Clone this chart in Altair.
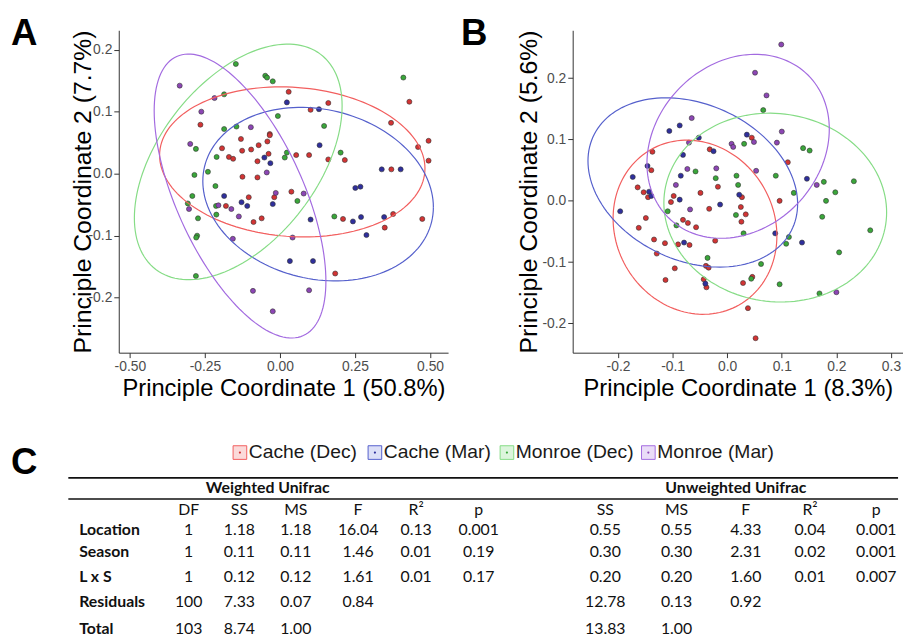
import altair as alt
import numpy as np
import pandas as pd

groups = ["Cache (Dec)", "Cache (Mar)", "Monroe (Dec)", "Monroe (Mar)"]
point_colors = ["#d23434", "#2f2f9c", "#3aa63a", "#8c46b4"]
ellipse_colors = ["#f25f5f", "#5560cc", "#86dc86", "#a36be0"]
legend_fills = ["#fbdada", "#dcdff7", "#dcf5dc", "#eadcf8"]

# ---------------- Panel A (weighted) ----------------
a_red_x = [0.029, 0.161, 0.102, 0.431, -0.265, 0.370, -0.034, -0.034, -0.130, -0.042, -0.071, 0.495, 0.460,
           -0.193, -0.126, -0.096, -0.038, -0.170, -0.156, 0.054, 0.097, -0.075, 0.161, 0.216, 0.495, 0.371,
           -0.125, -0.075, 0.038, -0.104, -0.019, -0.180, -0.088, -0.061, 0.210, 0.377, 0.474, 0.349, 0.184]
a_red_y = [0.132, 0.114, 0.103, 0.116, 0.079, 0.082, 0.064, 0.062, 0.056, 0.052, 0.046, 0.053, 0.043,
           0.041, 0.037, 0.039, 0.032, 0.027, 0.024, 0.030, 0.030, 0.020, 0.023, 0.022, 0.021, 0.007,
           -0.005, -0.006, -0.029, -0.038, -0.038, -0.052, -0.078, -0.072, -0.073, -0.065, -0.073, -0.087, -0.161]
a_blue_x = [0.023, 0.130, 0.132, -0.052, -0.032, 0.339, 0.402, 0.251, 0.268, -0.186, -0.128, -0.109, -0.024,
            0.102, 0.243, 0.270, 0.347, 0.288, 0.033, 0.110]
a_blue_y = [0.115, 0.104, 0.046, 0.026, 0.017, 0.007, 0.007, -0.023, -0.021, -0.036, -0.046, -0.052, -0.049,
            -0.074, -0.077, -0.070, -0.070, -0.099, -0.141, -0.141]
a_green_x = [-0.147, -0.049, -0.043, -0.024, 0.411, -0.186, -0.007, -0.186, -0.145, 0.147, -0.280, -0.211, 0.023,
             0.016, 0.202, -0.240, -0.285, -0.215, -0.292, -0.307, -0.213, -0.212, -0.273, 0.058, 0.181, -0.276,
             -0.279, -0.280]
a_green_y = [0.177, 0.158, 0.155, 0.149, 0.155, 0.128, 0.093, 0.072, 0.076, 0.077, 0.040, 0.027, 0.034,
             0.026, 0.034, 0.003, -0.002, -0.020, -0.036, -0.048, -0.052, -0.066, -0.072, -0.044, -0.069, -0.100,
             -0.103, -0.165]
a_purple_x = [-0.334, -0.262, -0.097, -0.299, -0.218, -0.044, -0.014, 0.079, -0.205, -0.303, -0.162, -0.137,
              -0.157, 0.042, -0.090, 0.097, -0.024]
a_purple_y = [0.142, 0.100, 0.075, 0.048, 0.122, 0.002, -0.031, -0.032, -0.051, -0.057, -0.057, -0.069,
              -0.105, -0.103, -0.189, -0.188, -0.222]

# ellipse parameters (centre, half-width, half-height, tilt) in the order of groups
a_ell_cx = [0.041, 0.127, -0.139, -0.133]
a_ell_cy = [0.019, -0.033, 0.019, -0.036]
a_ell_rx = [0.442, 0.384, 0.346, 0.286]
a_ell_ry = [0.121, 0.140, 0.190, 0.229]
a_ell_tilt = [-0.088, -0.15, 0.496, -0.644]

# ---------------- Panel B (unweighted) ----------------
b_red_x = [-0.137, 0.045, -0.032, 0.111, -0.139, -0.164, -0.153, -0.145, -0.017, -0.049, -0.098, -0.103, 0.027,
           0.096, -0.033, 0.025, 0.034, 0.026, -0.149, -0.081, -0.072, -0.057, -0.162, -0.134, -0.114, -0.090,
           -0.069, -0.022, -0.129, -0.096, -0.039, -0.034, -0.043, -0.038, -0.113, 0.029, 0.046, 0.038, 0.052]
b_red_y = [0.080, 0.103, 0.084, 0.063, 0.050, 0.022, 0.014, 0.006, 0.023, 0.013, 0.008, -0.002, 0.006,
           0.000, -0.013, -0.010, -0.022, -0.034, -0.028, -0.031, -0.036, -0.043, -0.044, -0.063, -0.069, -0.071,
           -0.072, -0.065, -0.086, -0.110, -0.106, -0.109, -0.128, -0.141, -0.129, -0.134, -0.124, -0.175, -0.224]
b_blue_x = [-0.106, -0.087, -0.052, 0.036, -0.025, -0.081, -0.146, -0.173, -0.085, -0.143, -0.139, 0.022, -0.087,
            -0.013, -0.196, 0.146, 0.088, 0.137, -0.079, -0.040]
b_blue_y = [0.114, 0.123, 0.103, 0.108, 0.081, 0.075, 0.057, 0.039, 0.041, 0.015, 0.008, 0.010, 0.002,
            -0.006, -0.017, 0.036, -0.053, -0.068, -0.068, -0.135]
b_green_x = [0.066, 0.031, 0.139, 0.151, -0.058, -0.021, 0.017, 0.089, 0.020, 0.177, 0.232, 0.122, 0.198,
             0.181, -0.109, 0.016, 0.174, -0.093, 0.030, 0.262, 0.113, 0.108, 0.205, -0.036, 0.062, 0.044,
             0.096, 0.169]
b_green_y = [0.148, 0.093, 0.086, 0.082, 0.048, 0.037, 0.041, 0.041, 0.026, 0.031, 0.032, 0.013, 0.014,
             0.000, -0.017, -0.023, -0.026, -0.040, -0.053, -0.048, -0.059, -0.070, -0.084, -0.093, -0.103, -0.127,
             -0.136, -0.151]
b_purple_x = [0.099, 0.051, 0.072, -0.065, 0.100, 0.008, 0.011, 0.049, 0.091, -0.070, -0.020, -0.073, 0.053,
              -0.094, -0.068, 0.164, 0.200]
b_purple_y = [0.255, 0.209, 0.172, 0.135, 0.113, 0.093, 0.088, 0.096, 0.095, 0.095, 0.053, 0.052, 0.049,
              0.026, -0.014, 0.026, -0.149]

b_ell_cx = [-0.059, -0.063, 0.088, 0.020]
b_ell_cy = [-0.043, 0.030, -0.011, 0.089]
b_ell_rx = [0.150, 0.192, 0.204, 0.167]
b_ell_ry = [0.142, 0.138, 0.154, 0.150]
b_ell_tilt = [-0.10, -0.257, -0.05, 0.188]

# ---------------- Table C ----------------
row_labels = ["Location", "Season", "L x S", "Residuals", "Total"]
col_headers = ["DF", "SS", "MS", "F", "R\u00b2", "p", "SS", "MS", "F", "R\u00b2", "p"]
df_vals = ["1", "1", "1", "100", "103"]
w_ss = ["1.18", "0.11", "0.12", "7.33", "8.74"]
w_ms = ["1.18", "0.11", "0.12", "0.07", "1.00"]
w_f = ["16.04", "1.46", "1.61", "0.84", ""]
w_r2 = ["0.13", "0.01", "0.01", "", ""]
w_p = ["0.001", "0.19", "0.17", "", ""]
u_ss = ["0.55", "0.30", "0.20", "12.78", "13.83"]
u_ms = ["0.55", "0.30", "0.20", "0.13", "1.00"]
u_f = ["4.33", "2.31", "1.60", "0.92", ""]
u_r2 = ["0.04", "0.02", "0.01", "", ""]
u_p = ["0.001", "0.001", "0.007", "", ""]
group_headers = ["Weighted Unifrac", "Unweighted Unifrac"]


def make_points(xs_list, ys_list):
    rows = []
    for g, xs, ys in zip(groups, xs_list, ys_list):
        for x, y in zip(xs, ys):
            rows.append({"group": g, "x": x, "y": y})
    return pd.DataFrame(rows)


def make_ellipses(cx, cy, rx, ry, tilt):
    t = np.linspace(0, 2 * np.pi, 145)
    rows = []
    for g, a, b, c, d, e in zip(groups, cx, cy, rx, ry, tilt):
        xs = a + c * np.cos(t)
        ys = b + d * np.sin(t + e)
        for i, (x, y) in enumerate(zip(xs, ys)):
            rows.append({"group": g, "i": i, "x": float(x), "y": float(y)})
    return pd.DataFrame(rows)


MINUS_FIX = "replace(datum.label, '\u2212', '-')"
axis_style = dict(grid=False, domainColor="#333333", tickColor="#333333", tickSize=5,
                  labelColor="#4d4d4d", labelFontSize=14, labelFont="Liberation Sans",
                  titleFont="Liberation Sans", titleColor="#000000", titleFontWeight="normal",
                  labelPadding=2, labelExpr=MINUS_FIX)


def panel(pts, ells, xdom, ydom, xticks, yticks, xfmt, xtitle, ytitle, letter, ytitle_x, width, height, letter_x):
    xenc = alt.X("x:Q", scale=alt.Scale(domain=xdom, nice=False, zero=False),
                 axis=alt.Axis(values=xticks, format=xfmt, title=xtitle, titlePadding=3,
                               titleFontSize=24, **axis_style))
    yenc = alt.Y("y:Q", scale=alt.Scale(domain=ydom, nice=False, zero=False),
                 axis=alt.Axis(values=yticks, format=".1f", title=ytitle, titleX=ytitle_x,
                               titleBaseline="alphabetic", titleFontSize=25, **axis_style))
    pts_ch = alt.Chart(pts).mark_circle(size=26, opacity=1, stroke="#333333", strokeWidth=0.6,
                                        clip=True).encode(
        x=xenc, y=yenc,
        fill=alt.Fill("group:N", scale=alt.Scale(domain=groups, range=point_colors), legend=None))
    ell_ch = alt.Chart(ells).mark_line(strokeWidth=1.2, clip=True).encode(
        x=xenc, y=yenc,
        color=alt.Color("group:N", scale=alt.Scale(domain=groups, range=ellipse_colors), legend=None),
        detail="group:N", order="i:Q")
    let_ch = alt.Chart(pd.DataFrame({"t": [letter]})).mark_text(
        align="left", baseline="alphabetic", fontSize=37, fontWeight="bold",
        font="Liberation Sans", color="#000000").encode(
        x=alt.value(letter_x), y=alt.value(15), text="t:N")
    return alt.layer(pts_ch, ell_ch, let_ch).properties(width=width, height=height)


pts_a = make_points([a_red_x, a_blue_x, a_green_x, a_purple_x], [a_red_y, a_blue_y, a_green_y, a_purple_y])
ell_a = make_ellipses(a_ell_cx, a_ell_cy, a_ell_rx, a_ell_ry, a_ell_tilt)
pts_b = make_points([b_red_x, b_blue_x, b_green_x, b_purple_x], [b_red_y, b_blue_y, b_green_y, b_purple_y])
ell_b = make_ellipses(b_ell_cx, b_ell_cy, b_ell_rx, b_ell_ry, b_ell_tilt)

panel_a = panel(pts_a, ell_a, [-0.537, 0.560], [-0.2887, 0.2313], [-0.5, -0.25, 0, 0.25, 0.5],
                [-0.2, -0.1, 0, 0.1, 0.2], ".2f", "Principle Coordinate 1 (50.8%)",
                "Principle Coordinate 2 (7.7%)", "A", -29, 333, 326, -109)
panel_b = panel(pts_b, ell_b, [-0.283, 0.322], [-0.2476, 0.2782], [-0.2, -0.1, 0, 0.1, 0.2, 0.3],
                [-0.2, -0.1, 0, 0.1, 0.2], ".1f", "Principle Coordinate 1 (8.3%)",
                "Principle Coordinate 2 (5.6%)", "B", -37, 334, 326, -113)

top = alt.hconcat(panel_a, panel_b, spacing=13)

# ---------------- bottom: legend + table (origin aligned with panel A plot) ----------------
TW, TH = 788, 192
y_scale = alt.Scale(domain=[-2, -1, 0, 0.5, 1, 2, 3, 4, 5, 6],
                    range=[11, 36.7, 46.7, 58, 69, 89, 111.7, 136.7, 162, 189])
col_scale = alt.Scale(domain=list(range(12)),
                      range=[-40, 70.7, 122, 179, 242, 300.7, 364, 492, 564, 634, 699, 766])
leg_scale = alt.Scale(domain=[0, 1, 2, 3], range=[122.5, 259, 392.5, 535.5])
head_scale = alt.Scale(domain=[0, 1], range=[150.7, 624])

legend_df = pd.DataFrame({"entry": groups, "k": list(range(len(groups))), "r": [-2] * len(groups)})
leg_x = alt.X("k:Q", scale=leg_scale, axis=None)
ty = alt.Y("r:Q", scale=y_scale, axis=None)

leg_box = alt.Chart(legend_df).mark_square(size=190, opacity=1, strokeWidth=1).encode(
    x=leg_x, y=ty,
    fill=alt.Fill("entry:N", scale=alt.Scale(domain=groups, range=legend_fills), legend=None),
    stroke=alt.Stroke("entry:N", scale=alt.Scale(domain=groups, range=ellipse_colors), legend=None))
leg_dot = alt.Chart(legend_df).mark_point(size=5, opacity=1, filled=True, shape="circle").encode(
    x=leg_x, y=ty,
    color=alt.Color("entry:N", scale=alt.Scale(domain=groups, range=point_colors), legend=None))
leg_txt = alt.Chart(legend_df).mark_text(align="left", baseline="middle", dx=9, fontSize=19.5,
                                          font="Liberation Sans", color="#1a1a1a").encode(
    x=leg_x, y=ty, text="entry:N")

# table cells
cell_rows = []
for j, h in enumerate(col_headers):
    cell_rows.append({"c": j + 1, "r": 1, "t": h})
value_cols = [df_vals, w_ss, w_ms, w_f, w_r2, w_p, u_ss, u_ms, u_f, u_r2, u_p]
for j, col in enumerate(value_cols):
    for i, v in enumerate(col):
        cell_rows.append({"c": j + 1, "r": i + 2, "t": v})
cells_df = pd.DataFrame(cell_rows)
labels_df = pd.DataFrame({"c": [0] * len(row_labels), "r": list(range(2, 2 + len(row_labels))),
                          "t": row_labels})
heads_df = pd.DataFrame({"h": [0, 1], "r": [0, 0], "t": group_headers})

tfont = "Lato"
TFS = 16
cells = alt.Chart(cells_df).mark_text(align="center", baseline="middle", fontSize=TFS, font=tfont,
                                      color="#111111").encode(
    x=alt.X("c:Q", scale=col_scale, axis=None), y=ty, text="t:N")
labels = alt.Chart(labels_df).mark_text(align="left", baseline="middle", fontSize=TFS, font=tfont,
                                        fontWeight="bold", color="#111111").encode(
    x=alt.X("c:Q", scale=col_scale, axis=None), y=ty, text="t:N")
heads = alt.Chart(heads_df).mark_text(align="center", baseline="middle", fontSize=TFS, font=tfont,
                                      fontWeight="bold", color="#111111").encode(
    x=alt.X("h:Q", scale=head_scale, axis=None), y=ty, text="t:N")

rule_top = alt.Chart(pd.DataFrame({"r": [-1]})).mark_rule(strokeWidth=1.8, color="#111111").encode(
    y=ty, x=alt.value(-51), x2=alt.value(TW))
rule_mid = alt.Chart(pd.DataFrame({"r": [0.5]})).mark_rule(strokeWidth=1.5, color="#111111").encode(
    y=ty, x=alt.value(-51), x2=alt.value(TW))
let_c = alt.Chart(pd.DataFrame({"t": ["C"]})).mark_text(
    align="left", baseline="alphabetic", fontSize=37, fontWeight="bold",
    font="Liberation Sans", color="#000000").encode(x=alt.value(-109), y=alt.value(33), text="t:N")

bottom = alt.layer(leg_box, leg_dot, leg_txt, rule_top, rule_mid, heads, cells, labels, let_c).resolve_scale(
    x="independent").properties(width=TW, height=TH)

chart = alt.vconcat(top, bottom, spacing=42).resolve_scale(
    color="independent", fill="independent", stroke="independent"
).properties(
    padding={"left": 3, "top": 4, "right": 0, "bottom": 0}, background="white"
).configure_view(stroke=None)

chart.save("out.html", embed_options={"renderer": "svg", "actions": False})
